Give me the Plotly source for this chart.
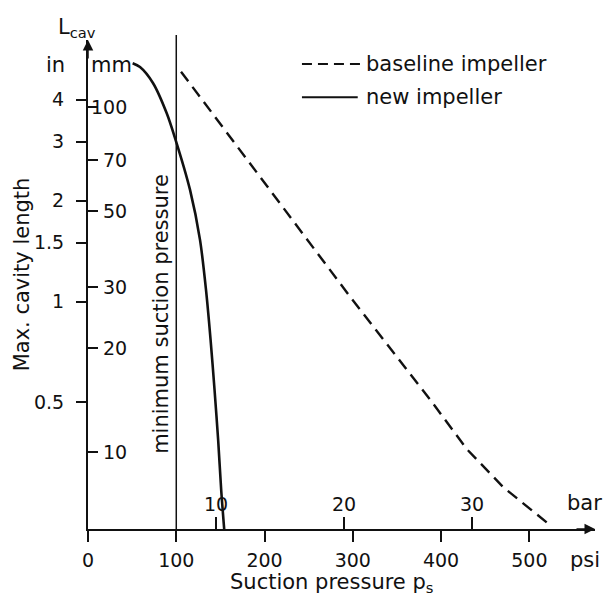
import math
import plotly.graph_objects as go

# ---- data ----
new_psi = [50.6, 58.9, 73.6, 89.2, 98.6, 115.6, 126.9, 133.7, 138.9, 143.4, 147.5, 150.9, 154.3]
new_mm = [133.9, 130.6, 117.4, 95.9, 81.3, 57.5, 41.2, 29.5, 21.1, 15.1, 10.8, 7.76, 5.98]

base_psi = [105.4, 296.9, 387.5, 429.1, 470.6, 523.5]
base_mm = [126.6, 28.2, 14.2, 10.2, 7.9, 6.14]

min_suction_psi = 100

psi_ticks = [0, 100, 200, 300, 400, 500]
bar_ticks = [10, 20, 30]
mm_ticks = [100, 70, 50, 30, 20, 10]
in_ticks = [4, 3, 2, 1.5, 1, 0.5]
in_labels = ["4", "3", "2", "1.5", "1", "0.5"]

PSI_PER_BAR = 14.5038

FONT = "DejaVu Sans"
FS = 19      # numbers
FT = 21      # words
BLACK = "#111111"

x_max = 574.4
mm_range = [0.7768, 2.1942]
in_range = [-0.6791, 0.7806]

fig = go.Figure()

fig.add_trace(go.Scatter(
    x=base_psi, y=base_mm, mode="lines", xaxis="x", yaxis="y",
    line=dict(color=BLACK, width=2.4, dash="12px,7px"), showlegend=False,
))
fig.add_trace(go.Scatter(
    x=new_psi, y=new_mm, mode="lines", xaxis="x", yaxis="y",
    line=dict(color=BLACK, width=2.6, shape="spline", smoothing=0.8), showlegend=False,
))
# invisible traces to activate secondary axes
fig.add_trace(go.Scatter(x=[None], y=[None], xaxis="x2", yaxis="y", showlegend=False))
fig.add_trace(go.Scatter(x=[None], y=[None], xaxis="x", yaxis="y2", showlegend=False))

fig.update_layout(
    width=605, height=603,
    margin=dict(l=88, r=10, t=40, b=74),
    paper_bgcolor="white", plot_bgcolor="white",
    font=dict(family=FONT, size=FS, color=BLACK),
    xaxis=dict(
        range=[0, x_max], showgrid=False, zeroline=False,
        showline=True, linecolor=BLACK, linewidth=1.5,
        ticks="outside", ticklen=11, tickwidth=1.5, tickcolor=BLACK,
        tickvals=psi_ticks, ticktext=[str(v) for v in psi_ticks],
        ticklabelstandoff=2,
    ),
    xaxis2=dict(
        overlaying="x", anchor="y", side="bottom",
        range=[0, x_max / PSI_PER_BAR], showgrid=False, zeroline=False,
        showline=False, ticks="inside", ticklen=12, tickwidth=1.5, tickcolor=BLACK,
        tickvals=bar_ticks, showticklabels=False,
    ),
    yaxis=dict(
        type="log", range=mm_range, showgrid=False, zeroline=False,
        showline=True, linecolor=BLACK, linewidth=1.5,
        ticks="inside", ticklen=10, tickwidth=1.5, tickcolor=BLACK,
        tickvals=mm_ticks, showticklabels=False,
    ),
    yaxis2=dict(
        type="log", range=in_range, overlaying="y", anchor="x", side="left",
        showgrid=False, zeroline=False, showline=False,
        ticks="outside", ticklen=11, tickwidth=1.5, tickcolor=BLACK,
        tickvals=in_ticks, ticktext=in_labels, ticklabelstandoff=8,
    ),
)

ann = []
# mm tick labels (right aligned)
for v in mm_ticks:
    ann.append(dict(x=0.0809, y=math.log10(v), xref="paper", yref="y",
                    text=str(v), showarrow=False, xanchor="right", yanchor="middle"))
# bar tick labels
for v in bar_ticks:
    ann.append(dict(x=v, y=0, xref="x2", yref="paper", text=str(v), showarrow=False,
                    xanchor="center", yanchor="bottom", yshift=12))

texts = [
    ("L<sub>cav</sub>", -0.0217, 1.0245, 0, FT),
    ("in", -0.065, 0.949, 0, FT),
    ("mm", 0.0473, 0.949, 0, FT),
    ("psi", 0.980, -0.0634, 0, FT),
    ("bar", 0.980, 0.0532, 0, FT),
    ("Suction pressure p<sub>s</sub>", 0.481, -0.110, 0, FT),
    ("Max. cavity length", -0.130, 0.521, -90, FT),
    ("minimum suction pressure", 0.144, 0.440, -90, FT),
]
for t, x, y, a, s in texts:
    ann.append(dict(x=x, y=y, xref="paper", yref="paper", text=t, showarrow=False,
                    xanchor="center", yanchor="middle", textangle=a, font=dict(size=s)))

# legend texts
ann.append(dict(x=0.544, y=0.951, xref="paper", yref="paper", text="baseline impeller",
                showarrow=False, xanchor="left", yanchor="middle", font=dict(size=FT)))
ann.append(dict(x=0.544, y=0.883, xref="paper", yref="paper", text="new impeller",
                showarrow=False, xanchor="left", yanchor="middle", font=dict(size=FT)))

# axis arrowheads
ann.append(dict(x=1.0, y=0, xref="paper", yref="paper", ax=-20, ay=0, text="",
                showarrow=True, arrowhead=2, arrowsize=1.4, arrowwidth=1.5, arrowcolor=BLACK))
ann.append(dict(x=0, y=1.0, xref="paper", yref="paper", ax=0, ay=20, text="",
                showarrow=True, arrowhead=2, arrowsize=1.4, arrowwidth=1.5, arrowcolor=BLACK))

fig.update_layout(annotations=ann)

shapes = [
    dict(type="line", xref="x", yref="paper", x0=min_suction_psi, x1=min_suction_psi,
         y0=0, y1=1.0102, line=dict(color=BLACK, width=1.5)),
    dict(type="line", xref="paper", yref="paper", x0=0.422, x1=0.540, y0=0.951, y1=0.951,
         line=dict(color=BLACK, width=2, dash="10px,6px")),
    dict(type="line", xref="paper", yref="paper", x0=0.422, x1=0.532, y0=0.883, y1=0.883,
         line=dict(color=BLACK, width=2)),
]
fig.update_layout(shapes=shapes)

fig.write_html(
    "out.html",
    config={"displayModeBar": False},
    post_script="document.body.style.margin='0px';document.body.style.overflow='hidden';",
)
